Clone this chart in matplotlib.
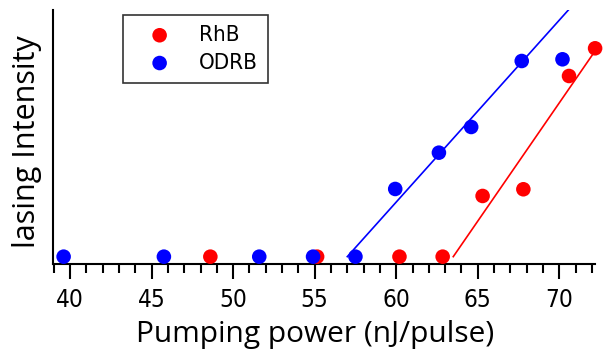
import numpy as np
import matplotlib.pyplot as plt
from matplotlib.ticker import MultipleLocator

# RhB data (pump power in nJ/pulse, lasing intensity in a.u.)
rhb_x = [48.6, 55.15, 60.2, 62.85, 65.3, 67.8, 70.6, 72.2]
rhb_y = [0, 0, 0, 0, 60.7, 67.4, 180.7, 208.4]
# ODRB data
odrb_x = [39.6, 45.75, 51.6, 54.9, 57.5, 59.94, 62.62, 64.6, 67.7, 70.2]
odrb_y = [0, 0, 0, 0, 0, 67.7, 104, 129.7, 195.7, 197.4]

# linear fits above threshold: (x start, x end), (y start, y end)
rhb_fit_x = [63.5, 72.1]
rhb_fit_y = [0, 203.4]
odrb_fit_x = [57.0, 70.6]
odrb_fit_y = [0, 247.4]

xticks = [40, 45, 50, 55, 60, 65, 70]

fig = plt.figure(figsize=(6.06, 3.51), dpi=100)
ax = fig.add_axes([0.0875, 0.248, 0.8945, 0.7235])

ax.plot(rhb_fit_x, rhb_fit_y, c='red', lw=1.2)
ax.plot(odrb_fit_x, odrb_fit_y, c='blue', lw=1.2)
ax.scatter(rhb_x, rhb_y, s=110, c='red', edgecolors='none', label='RhB', clip_on=False, zorder=3)
ax.scatter(odrb_x, odrb_y, s=110, c='blue', edgecolors='none', label='ODRB', clip_on=False, zorder=4)

ax.set_xlim(38.95, 72.2)
ax.set_ylim(-7.3, 246.7)
ax.set_xticks(xticks)
ax.xaxis.set_minor_locator(MultipleLocator(1))
ax.set_yticks([])
for s in ['top', 'right']:
    ax.spines[s].set_visible(False)
for s in ['left', 'bottom']:
    ax.spines[s].set_linewidth(1.5)
ax.tick_params(axis='x', which='major', length=11, width=1.5, pad=6.5, direction='out')
ax.tick_params(axis='x', which='minor', length=6.5, width=1.5, direction='out')
for lab in ax.get_xticklabels():
    lab.set_fontfamily('DejaVu Sans')
    lab.set_fontstretch('condensed')
    lab.set_fontsize(17.5)

ax.set_xlabel('Pumping power (nJ/pulse)', fontsize=21.5, family='Open Sans')
ax.xaxis.set_label_coords(0.483, -0.307, transform=ax.transAxes)
ax.xaxis.label.set_va('baseline')
ax.set_ylabel('lasing Intensity', fontsize=22, family='Open Sans')
ax.yaxis.set_label_coords(-0.033, 0.482, transform=ax.transAxes)
ax.yaxis.label.set_rotation_mode('anchor')
ax.yaxis.label.set_ha('center')
ax.yaxis.label.set_va('baseline')

leg = ax.legend(loc='upper left', bbox_to_anchor=(0.129, 0.98), borderaxespad=0,
                frameon=True, fancybox=False, edgecolor='black',
                prop={'family': 'DejaVu Sans', 'stretch': 'condensed', 'size': 16},
                handletextpad=0.57, borderpad=0.45, labelspacing=0.35, handlelength=2.4)
leg.get_frame().set_linewidth(1.2)

plt.savefig('out.png', dpi=100)
